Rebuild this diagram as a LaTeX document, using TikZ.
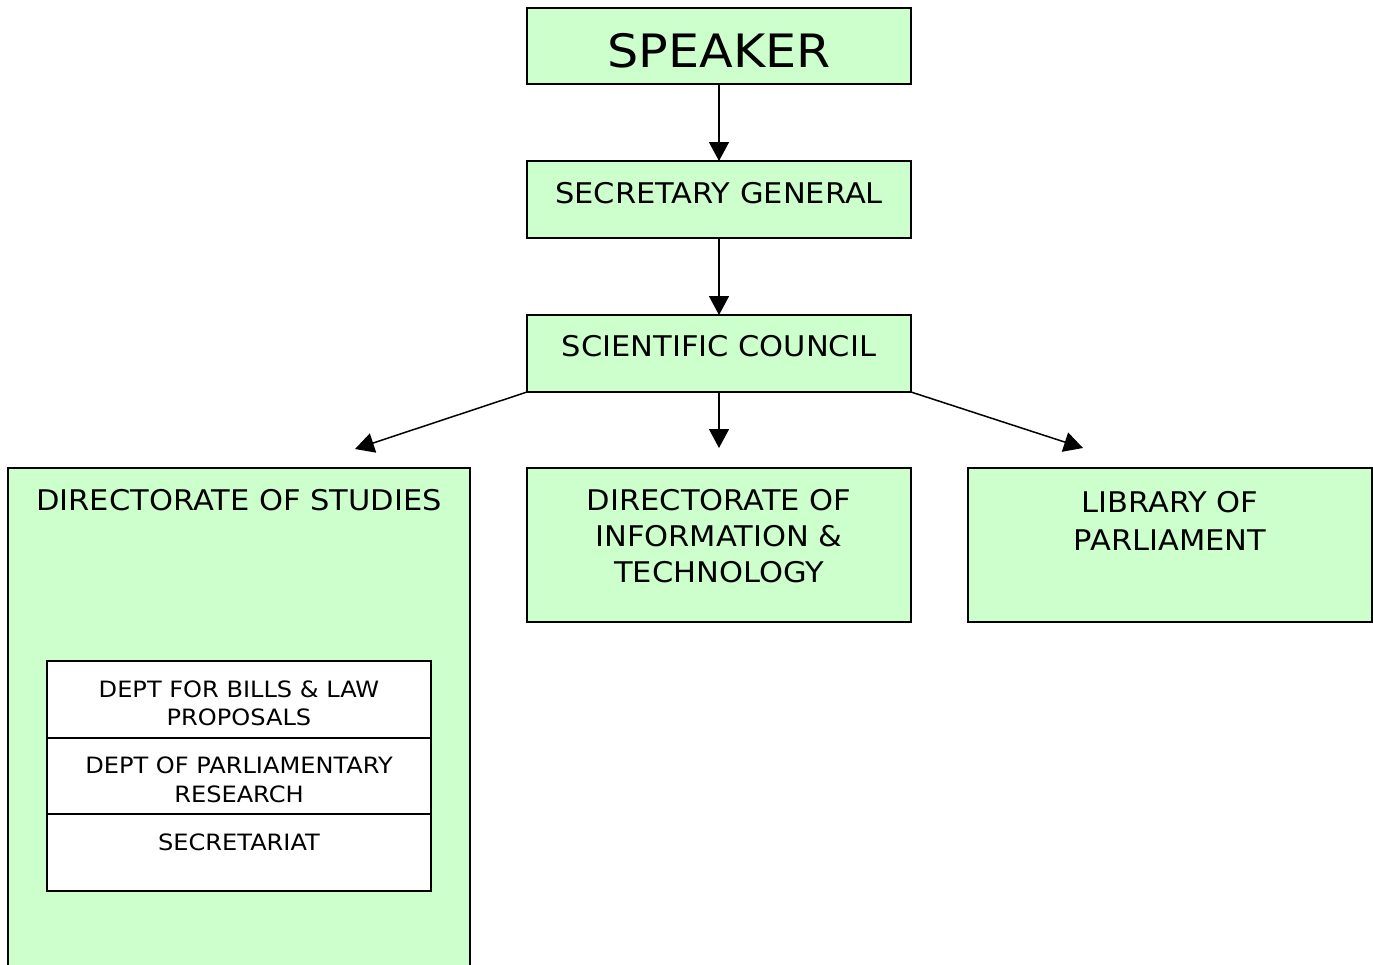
\documentclass[tikz,border=0pt]{standalone}
\usepackage{fontspec}
\setmainfont[FakeStretch=1.07]{DejaVu Sans}
\usetikzlibrary{arrows.meta}
\definecolor{boxgreen}{RGB}{204,255,204}
\tikzset{
  box/.style={draw=black, line width=1.6pt, fill=boxgreen, inner sep=0pt, outer sep=0pt},
  wbox/.style={draw=black, line width=1.6pt, fill=white, inner sep=0pt, outer sep=0pt},
  big/.style={font=\fontsize{46}{55}\selectfont, inner sep=0pt, anchor=base},
  mid/.style={font=\fontsize{28.5}{36}\selectfont, inner sep=0pt, anchor=base},
  small/.style={font=\fontsize{22.5}{28.5}\selectfont, inner sep=0pt, anchor=base},
  conn/.style={line width=1.5pt, -{Triangle[width=20pt,length=19pt]}}
}
\begin{document}
\begin{tikzpicture}[x=1pt,y=-1pt]
\useasboundingbox (0,0) rectangle (1373,964);
% boxes
\node[box, minimum width=384pt, minimum height=76pt, anchor=north west] (speaker) at (527,8) {};
\node[box, minimum width=384pt, minimum height=77pt, anchor=north west] (secgen) at (527,161) {};
\node[box, minimum width=384pt, minimum height=77pt, anchor=north west] (sci) at (527,315) {};
\node[box, minimum width=462pt, minimum height=560pt, anchor=north west] (studies) at (8,468) {};
\node[box, minimum width=384pt, minimum height=154pt, anchor=north west] (info) at (527,468) {};
\node[box, minimum width=404pt, minimum height=154pt, anchor=north west] (lib) at (968,468) {};
\node[wbox, minimum width=384pt, minimum height=77pt, anchor=north west] (bills) at (47,661) {};
\node[wbox, minimum width=384pt, minimum height=76pt, anchor=north west] (research) at (47,738) {};
\node[wbox, minimum width=384pt, minimum height=77pt, anchor=north west] (secretariat) at (47,814) {};
% texts
\node[big] (tspeaker) at (719,67) {SPEAKER};
\node[mid] (tsecgen) at (719,203) {SECRETARY GENERAL};
\node[mid] (tsci) at (719,356) {SCIENTIFIC COUNCIL};
\node[mid] (tstudies) at (239,510) {DIRECTORATE OF STUDIES};
\node[mid] (tinfo1) at (719,510) {DIRECTORATE OF};
\node[mid] (tinfo2) at (719,546) {INFORMATION \&};
\node[mid] (tinfo3) at (719,582) {TECHNOLOGY};
\node[mid] (tlib1) at (1170,512) {LIBRARY OF};
\node[mid] (tlib2) at (1170,550) {PARLIAMENT};
\node[small] (tbills1) at (239,697) {DEPT FOR BILLS \& LAW};
\node[small] (tbills2) at (239,725) {PROPOSALS};
\node[small] (tres1) at (239,773) {DEPT OF PARLIAMENTARY};
\node[small] (tres2) at (239,802) {RESEARCH};
\node[small] (tsecr) at (239,850) {SECRETARIAT};
% connectors
\coordinate (endL) at (355,449);
\coordinate (endM) at (719,448);
\coordinate (endR) at (1083,448);
\draw[conn] (speaker.south) -- (secgen.north);
\draw[conn] (secgen.south) -- (sci.north);
\draw[conn] (sci.south west) -- (endL);
\draw[conn] (sci.south) -- (endM);
\draw[conn] (sci.south east) -- (endR);
\end{tikzpicture}
\end{document}
